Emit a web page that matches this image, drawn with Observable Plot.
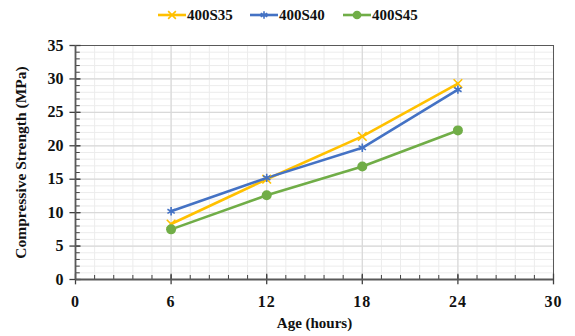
<!DOCTYPE html>
<html>
<head>
<meta charset="utf-8">
<script src="https://cdn.jsdelivr.net/npm/d3@7"></script>
<script src="https://cdn.jsdelivr.net/npm/@observablehq/plot@0.6"></script>
<style>
  html, body { margin: 0; padding: 0; background: #fff; }
  #wrap { width: 575px; font-family: 'Liberation Serif', 'Times New Roman', serif; }
  #legend { height: 30px; position: relative; font-weight: bold; font-size: 15px; color: #111; font-family: 'Liberation Serif', serif; }
  .item { position: absolute; top: 6px; display: flex; align-items: center; height: 18px; }
  .item svg { margin-right: 1px; }
  #chart svg, #chart svg text { font-family: 'Liberation Serif', serif !important; }
</style>
</head>
<body>
<div id="wrap">
  <div id="legend"></div>
  <div id="chart"></div>
</div>
<script>
const ages = [6, 12, 18, 24];
const seriesNames = ["400S35", "400S40", "400S45"];
const s35 = [8.3, 15.0, 21.4, 29.3];
const s40 = [10.2, 15.2, 19.7, 28.4];
const s45 = [7.5, 12.6, 16.9, 22.3];
const colors = ["#FFC000", "#4472C4", "#70AD47"];
const symbols = ["times", "asterisk", "circle"];
const xTicks = [0, 6, 12, 18, 24, 30];
const yTicks = [0, 5, 10, 15, 20, 25, 30, 35];

const values = [s35, s40, s45];
const data = [];
seriesNames.forEach((name, i) => ages.forEach((a, j) => data.push({series: name, age: a, strength: values[i][j]})));

const xMinor = d3.range(0, 30.001, 1.2).map(d => +d.toFixed(2));
const yMinor = d3.range(0, 35.001, 1);
const FONT = "'Liberation Serif', serif";

const chart = Plot.plot({
  width: 575,
  height: 306,
  marginTop: 15,
  marginBottom: 57,
  marginLeft: 75,
  marginRight: 22,
  style: {fontFamily: FONT, fontWeight: "bold", color: "#111", background: "#fff"},
  x: {domain: [0, 30], ticks: xTicks},
  y: {domain: [0, 35], ticks: yTicks},
  color: {domain: seriesNames, range: colors},
  symbol: {domain: seriesNames, range: symbols},
  marks: [
    Plot.ruleX(xMinor, {stroke: "#ececec", strokeWidth: 1}),
    Plot.ruleY(yMinor, {stroke: "#ececec", strokeWidth: 1}),
    Plot.ruleX(xTicks, {stroke: "#d9d9d9", strokeWidth: 1.2}),
    Plot.ruleY(yTicks, {stroke: "#d9d9d9", strokeWidth: 1.2}),
    Plot.frame({stroke: "#595959", strokeWidth: 1}),
    Plot.ruleX(xMinor, {y1: 0, y2: 0.6, stroke: "#404040", strokeWidth: 1}),
    Plot.ruleY(yMinor, {x1: 0, x2: 0.3, stroke: "#404040", strokeWidth: 1}),
    Plot.ruleX(xTicks, {y1: -0.8, y2: 0.8, stroke: "#404040", strokeWidth: 1.3}),
    Plot.ruleY(yTicks, {x1: -0.35, x2: 0.35, stroke: "#404040", strokeWidth: 1.3}),
    Plot.ruleY([0], {stroke: "#595959", strokeWidth: 1.8}),
    Plot.ruleX([0], {stroke: "#595959", strokeWidth: 1.8}),
    Plot.line(data, {x: "age", y: "strength", stroke: "series", strokeWidth: 2.6}),
    Plot.dot(data.filter(d => d.series !== "400S45"), {x: "age", y: "strength", symbol: "series", stroke: "series", r: 4, strokeWidth: 1.6}),
    Plot.dot(data.filter(d => d.series === "400S45"), {x: "age", y: "strength", fill: "series", r: 5}),
    Plot.axisX({ticks: xTicks, tickSize: 0, tickPadding: 16, fontSize: 16, fontFamily: FONT, label: null, fill: "#111"}),
    Plot.axisY({ticks: yTicks, tickSize: 0, tickPadding: 12, fontSize: 16, fontFamily: FONT, label: null, fill: "#111"}),
    Plot.text(["Age (hours)"], {frameAnchor: "bottom", textAnchor: "middle", dy: 48, fontSize: 15, fontFamily: FONT, fontWeight: "bold", fill: "#111"}),
    Plot.text(["Compressive Strength (MPa)"], {frameAnchor: "left", textAnchor: "middle", rotate: -90, dx: -54, fontSize: 15.5, fontFamily: FONT, fontWeight: "bold", fill: "#111"})
  ]
});
chart.querySelectorAll('[aria-label="x-axis tick label"] text').forEach(t => t.setAttribute("letter-spacing", "1"));
document.getElementById("chart").appendChild(chart);

const legend = d3.select("#legend");
const lefts = [158, 250, 343];
const legendSymbols = [d3.symbolTimes, d3.symbolAsterisk, d3.symbolCircle];
seriesNames.forEach((name, i) => {
  const item = legend.append("div").attr("class", "item").style("left", lefts[i] + "px");
  const s = item.append("svg").attr("width", 28).attr("height", 18);
  s.append("line").attr("x1", 0).attr("x2", 28).attr("y1", 9).attr("y2", 9).attr("stroke", colors[i]).attr("stroke-width", 2.6);
  const sym = d3.symbol(legendSymbols[i], i === 2 ? 60 : 40);
  s.append("path").attr("d", sym()).attr("transform", "translate(14,9)")
    .attr("fill", i === 2 ? colors[i] : "none").attr("stroke", i === 2 ? "none" : colors[i]).attr("stroke-width", 1.6);
  item.append("span").text(name);
});
</script>
</body>
</html>
